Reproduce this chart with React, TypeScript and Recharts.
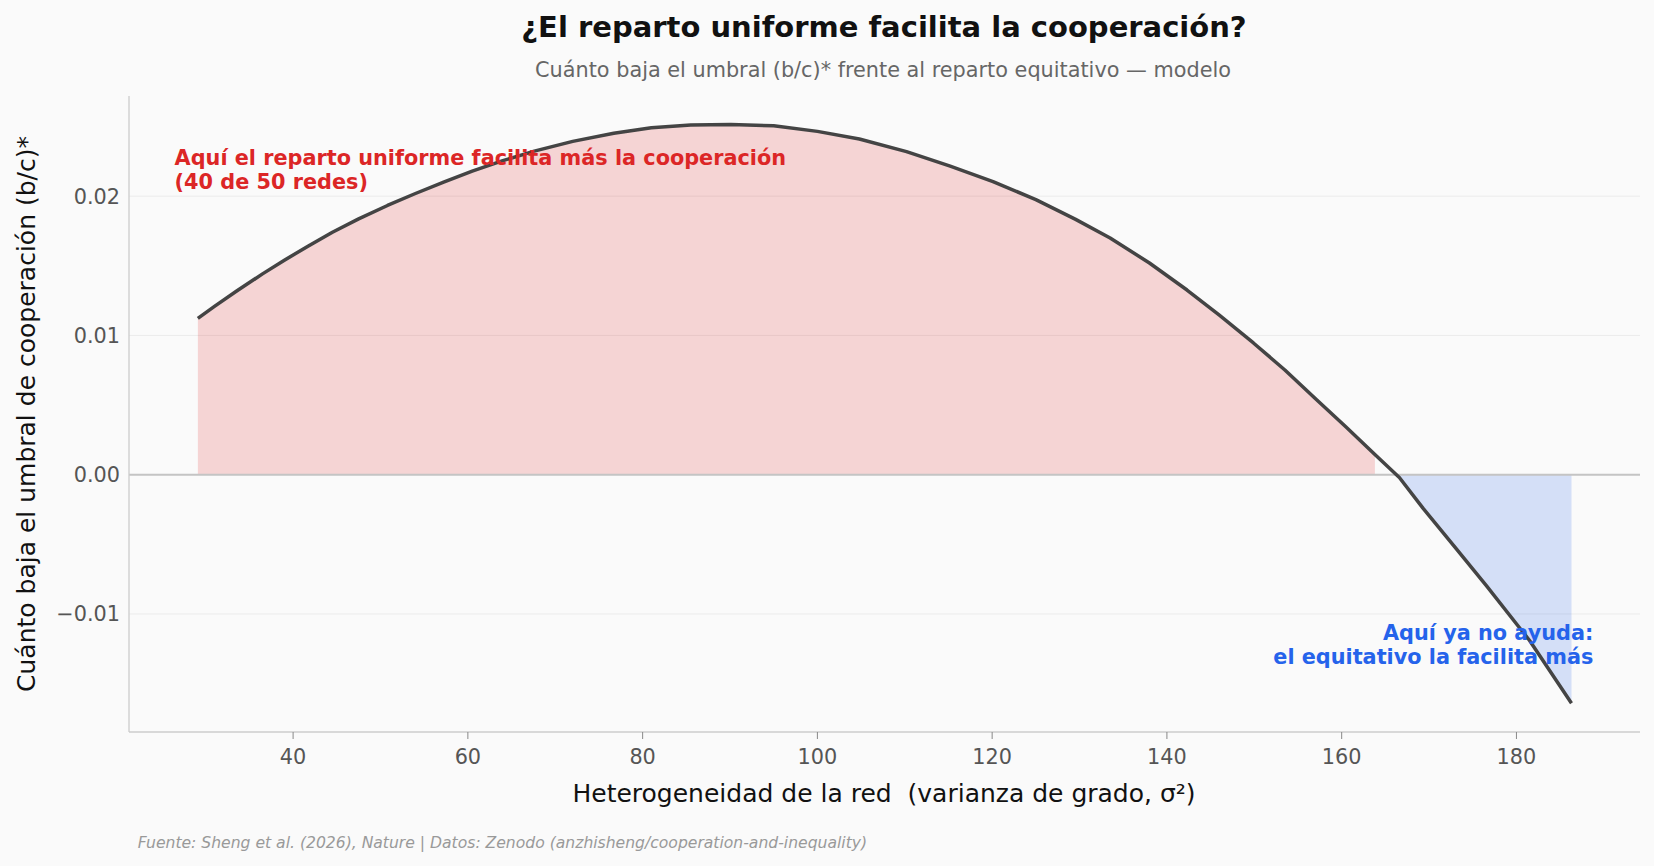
import {
  Area,
  CartesianGrid,
  ComposedChart,
  Line,
  ReferenceLine,
  XAxis,
  YAxis,
} from "recharts"

// heterogeneity of each network (degree variance, sigma^2)
const sigma2 = [
  29.1, 31.0, 33.5, 36.5, 39.0, 41.7, 44.5, 47.5, 50.8, 54.0, 57.3, 60.5, 64.0,
  67.6, 72.0, 76.7, 81.0, 85.5, 90.1, 95.0, 100.0, 104.8, 110.2, 115.2, 120.1,
  125.0, 129.5, 133.5, 138.0, 142.3, 146.0, 149.9, 153.5, 157.1, 160.5, 163.8,
  166.6, 169.3, 173.1, 176.6, 181.5, 186.3,
]

// drop of the (b/c)* threshold vs the equitative split
const delta = [
  0.01123, 0.01209, 0.01317, 0.01442, 0.0154, 0.01641, 0.01741, 0.01837,
  0.01933, 0.02019, 0.02103, 0.0218, 0.02255, 0.02323, 0.02393, 0.02452,
  0.02491, 0.02511, 0.02515, 0.02505, 0.02465, 0.0241, 0.0232, 0.02215,
  0.02105, 0.01975, 0.01835, 0.017, 0.0152, 0.01326, 0.01145, 0.00946,
  0.00752, 0.0054, 0.00343, 0.00145, -0.0002, -0.0024, -0.0053, -0.008,
  -0.0119, -0.0164,
]

const xTicks = [40, 60, 80, 100, 120, 140, 160, 180]
const yTicks = [-0.01, 0, 0.01, 0.02]

const RED = "#dc2626"
const BLUE = "#2563eb"
const FONT = "'DejaVu Sans', sans-serif"

const data = sigma2.map((x, i) => ({
  x,
  y: delta[i],
  pos: delta[i] > 0 ? delta[i] : null,
  neg: delta[i] < 0 ? delta[i] : null,
}))

function fmtY(v: number) {
  if (v === 0) return "0.00"
  return v < 0 ? "\u2212" + Math.abs(v).toFixed(2) : v.toFixed(2)
}

const abs = (extra: React.CSSProperties): React.CSSProperties => ({
  position: "absolute",
  fontFamily: FONT,
  whiteSpace: "pre",
  ...extra,
})

export default function App() {
  return (
    <div
      style={{
        position: "absolute",
        left: 0,
        top: 0,
        width: 1654,
        height: 866,
        background: "#fafafa",
        overflow: "hidden",
        fontFamily: FONT,
      }}
    >
      <ComposedChart
        width={1654}
        height={866}
        data={data}
        margin={{ top: 96, right: 14, left: 0, bottom: 104 }}
      >
        <CartesianGrid
          vertical={false}
          horizontalValues={yTicks}
          stroke="#ebebeb"
          strokeWidth={1}
        />
        <XAxis
          type="number"
          dataKey="x"
          domain={[21.22, 194.14]}
          ticks={xTicks}
          allowDataOverflow
          height={30}
          tickSize={7}
          tickMargin={10}
          axisLine={{ stroke: "#cccccc", strokeWidth: 1.3 }}
          tickLine={{ stroke: "#888888" }}
          tick={{ fill: "#555555", fontSize: 20.8, fontFamily: FONT }}
        />
        <YAxis
          type="number"
          domain={[-0.01847, 0.02719]}
          ticks={yTicks}
          allowDataOverflow
          width={129}
          tickSize={0}
          tickMargin={9}
          tickLine={false}
          axisLine={{ stroke: "#cccccc", strokeWidth: 1.3 }}
          tickFormatter={fmtY}
          tick={{ fill: "#555555", fontSize: 20.8, fontFamily: FONT }}
        />
        <Area
          type="linear"
          dataKey="pos"
          baseValue={0}
          stroke="none"
          fill={RED}
          fillOpacity={0.18}
          isAnimationActive={false}
        />
        <Area
          type="linear"
          dataKey="neg"
          baseValue={0}
          stroke="none"
          fill={BLUE}
          fillOpacity={0.18}
          isAnimationActive={false}
        />
        <ReferenceLine y={0} stroke="#c4c4c4" strokeWidth={2} />
        <Line
          type="linear"
          dataKey="y"
          stroke="#444444"
          strokeWidth={3.5}
          dot={false}
          activeDot={false}
          strokeLinejoin="round"
          isAnimationActive={false}
        />
      </ComposedChart>

      <div
        style={abs({
          left: 884,
          top: 12.8,
          transform: "translateX(-50%)",
          fontSize: 29,
          lineHeight: "29px",
          fontWeight: "bold",
          color: "#111111",
        })}
      >
        ¿El reparto uniforme facilita la cooperación?
      </div>
      <div
        style={abs({
          left: 883,
          top: 59.7,
          transform: "translateX(-50%)",
          fontSize: 20.8,
          lineHeight: "20.8px",
          color: "#666666",
        })}
      >
        Cuánto baja el umbral (b/c)* frente al reparto equitativo — modelo
      </div>

      <div
        style={abs({
          left: 174.6,
          top: 145.8,
          fontSize: 20.8,
          lineHeight: "24px",
          fontWeight: "bold",
          color: RED,
        })}
      >
        {"Aquí el reparto uniforme facilita más la cooperación\n(40 de 50 redes)"}
      </div>
      <div
        style={abs({
          right: 60.7,
          top: 620.8,
          fontSize: 20.8,
          lineHeight: "24px",
          fontWeight: "bold",
          color: BLUE,
          textAlign: "right",
        })}
      >
        {"Aquí ya no ayuda:\nel equitativo la facilita más"}
      </div>

      <div
        style={abs({
          left: 884,
          top: 780.5,
          transform: "translateX(-50%)",
          fontSize: 25,
          lineHeight: "25px",
          color: "#111111",
        })}
      >
        {"Heterogeneidad de la red  (varianza de grado, σ²)"}
      </div>
      <div
        style={abs({
          left: 26,
          top: 414,
          transform: "translate(-50%, -50%) rotate(-90deg)",
          fontSize: 25,
          lineHeight: "25px",
          color: "#111111",
        })}
      >
        Cuánto baja el umbral de cooperación (b/c)*
      </div>

      <div
        style={abs({
          left: 137.7,
          top: 835.5,
          fontSize: 15.6,
          lineHeight: "15.6px",
          fontStyle: "italic",
          color: "#999999",
        })}
      >
        {"Fuente: Sheng et al. (2026), Nature | Datos: Zenodo (anzhisheng/cooperation-and-inequality)"}
      </div>
    </div>
  )
}
